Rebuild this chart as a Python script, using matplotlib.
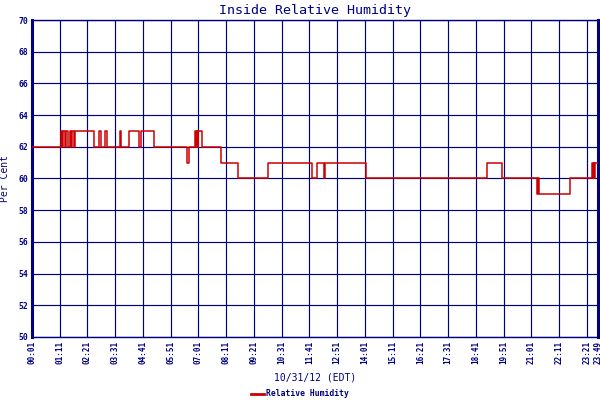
import matplotlib
matplotlib.use('Agg')
import matplotlib.pyplot as plt
from matplotlib.lines import Line2D

# step breakpoints: time the value starts, value
times = ['00:01', '01:13', '01:17', '01:20', '01:25', '01:27', '01:31', '01:36',
         '01:40', '01:43', '01:46', '01:49', '02:38', '02:49', '02:56', '03:06',
         '03:11', '03:44', '03:46', '04:05', '04:31', '04:36', '05:09', '06:32',
         '06:37', '06:52', '06:55', '06:58', '07:00', '07:01', '07:11', '07:59',
         '08:40', '09:56', '11:47', '11:59', '12:18', '12:20', '14:03', '19:08',
         '19:46', '21:15', '21:17', '21:19', '22:39', '23:35', '23:37', '23:38',
         '23:40', '23:41', '23:49']
humidity = [62, 63, 62, 63, 62, 63, 62, 63,
            62, 63, 62, 63, 62, 63, 62, 63,
            62, 63, 62, 63, 62, 63, 62, 61,
            62, 63, 62, 63, 62, 63, 62, 61,
            60, 61, 60, 61, 60, 61, 60, 61,
            60, 59, 60, 59, 60, 61, 60, 61,
            60, 61, 61]

tick_labels = ['00:01', '01:11', '02:21', '03:31', '04:41', '05:51', '07:01',
               '08:11', '09:21', '10:31', '11:41', '12:51', '14:01', '15:11',
               '16:21', '17:31', '18:41', '19:51', '21:01', '22:11', '23:21',
               '23:49']


def to_min(s):
	h, m = s.split(':')
	return int(h) * 60 + int(m)


navy = '#000080'
red = '#cc0000'
mono = 'DejaVu Sans Mono'

x = [to_min(t) for t in times]
ticks = [to_min(t) for t in tick_labels]

fig = plt.figure(figsize=(6, 4), dpi=100)
ax = fig.add_axes([32 / 600, 63 / 400, 566 / 600, 317 / 400])

ax.step(x, humidity, where='post', color=red, lw=1.1, zorder=3)

ax.set_xlim(ticks[0], ticks[-1])
ax.set_ylim(50, 70)
ax.set_yticks(range(50, 71, 2))
ax.set_xticks(ticks)
ax.set_xticklabels(tick_labels, rotation=90, family=mono, fontsize=5.5,
                   fontweight='bold', color=navy)
for lab in ax.get_yticklabels():
	lab.set_family(mono)
	lab.set_fontsize(5.8)
	lab.set_fontweight('bold')
	lab.set_color(navy)
ax.tick_params(length=0, pad=3)
ax.grid(True, color=navy, lw=0.85)
for side in ['top', 'bottom']:
	ax.spines[side].set_color(navy)
	ax.spines[side].set_linewidth(1.0)
for side in ['left', 'right']:
	ax.spines[side].set_color(navy)
	ax.spines[side].set_linewidth(2.2)

ax.set_title('Inside Relative Humidity', family=mono, fontsize=9.6,
             color=navy, pad=4)
ax.set_ylabel('Per Cent', family=mono, fontsize=7, color=navy, labelpad=6)
ax.set_xlabel('10/31/12 (EDT)', family=mono, fontsize=7, color=navy,
              labelpad=6)

handle = Line2D([], [], color=red, lw=2)
fig.legend([handle], ['Relative Humidity'], loc='lower center',
           bbox_to_anchor=(0.5, -0.014), frameon=False, handlelength=1.6,
           handletextpad=0.3, prop={'family': mono, 'size': 5.8,
                                    'weight': 'bold'},
           labelcolor=navy)

fig.savefig('out.png', dpi=100)
